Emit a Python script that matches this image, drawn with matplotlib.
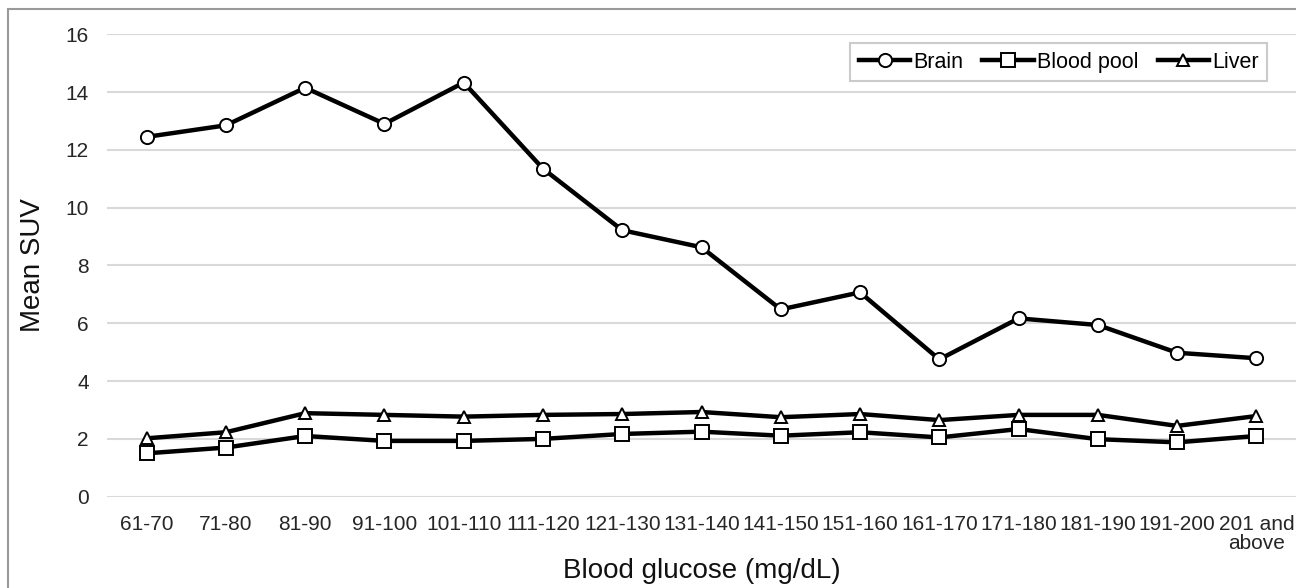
import matplotlib.pyplot as plt
from matplotlib.patches import Rectangle

plt.rcParams['font.family'] = ['Liberation Sans', 'DejaVu Sans']

categories = ["61-70", "71-80", "81-90", "91-100", "101-110", "111-120", "121-130",
              "131-140", "141-150", "151-160", "161-170", "171-180", "181-190",
              "191-200", "201 and\nabove"]
brain = [12.45, 12.85, 14.15, 12.9, 14.33, 11.35, 9.22, 8.63, 6.48, 7.07,
         4.75, 6.17, 5.94, 4.98, 4.79]
blood_pool = [1.5, 1.7, 2.1, 1.93, 1.93, 2.0, 2.17, 2.25, 2.11, 2.23,
              2.05, 2.34, 1.99, 1.88, 2.1]
liver = [2.02, 2.23, 2.89, 2.83, 2.77, 2.83, 2.86, 2.93, 2.75, 2.86,
         2.65, 2.83, 2.83, 2.45, 2.79]

fig = plt.figure(figsize=(12.96, 5.88), dpi=100)
ax = fig.add_axes([0.0826, 0.1553, 0.9174, 0.7864])

# outer frame (right and bottom edges run off the picture)
fig.patches.append(Rectangle((8 / 1296, -0.05), 1.05, 1.05 - 9 / 588, transform=fig.transFigure,
                             fill=False, edgecolor="#9a9a9a", linewidth=1.5))

x = range(len(categories))
style = dict(color="black", linewidth=3.2, markerfacecolor="white",
             markeredgecolor="black", markeredgewidth=1.4)
ax.plot(x, brain, marker="o", markersize=9.5, label="Brain", **style)
ax.plot(x, blood_pool, marker="s", markersize=9.5, label="Blood pool", **style)
ax.plot(x, liver, marker="^", markersize=8.5, label="Liver", **style)

ax.set_xlim(-0.5, len(categories) - 0.5)
ax.set_ylim(0, 16)
ax.set_yticks(range(0, 17, 2))
ax.set_xticks(list(x))
ax.set_xticklabels(categories, linespacing=1.0)
ax.tick_params(axis="both", length=0, labelsize=15, colors="#262626")
ax.tick_params(axis="y", pad=13)
ax.tick_params(axis="x", pad=13)
ax.grid(axis="y", color="#d9d9d9", linewidth=1.5)
ax.set_axisbelow(True)
for s in ax.spines.values():
    s.set_visible(False)

ax.set_xlabel("Blood glucose (mg/dL)", fontsize=20, color="#111111", labelpad=4)
ax.set_ylabel("Mean SUV", fontsize=20, color="#111111", labelpad=14)

leg = ax.legend(loc="upper right", bbox_to_anchor=(0.9756, 0.981), ncol=3,
                fontsize=15.5, frameon=True, fancybox=False, edgecolor="#bfbfbf",
                handlelength=2.4, handletextpad=0.12, columnspacing=0.9,
                borderaxespad=0, borderpad=0.4)
leg.get_frame().set_linewidth(1.5)

fig.savefig("out.png", dpi=100)
